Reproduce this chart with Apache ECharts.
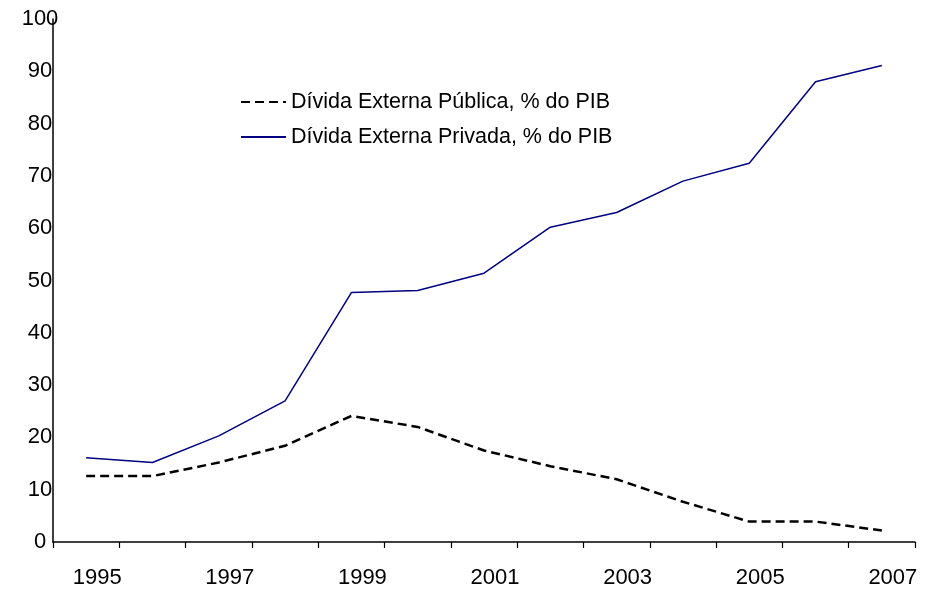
<!DOCTYPE html>
<html>
<head>
<meta charset="utf-8">
<title>Dívida Externa, % do PIB</title>
<script src="https://cdn.jsdelivr.net/npm/echarts@6.0.0/dist/echarts.min.js"></script>
<style>
  html, body { margin: 0; padding: 0; background: #fff; }
  #main { width: 925px; height: 593px; }
</style>
</head>
<body>
<div id="main"></div>
<script>
// dados
var anos = ['1995', '1996', '1997', '1998', '1999', '2000', '2001', '2002', '2003', '2004', '2005', '2006', '2007']
var publica = [12.6, 12.6, 15.2, 18.4, 24.1, 22.0, 17.5, 14.5, 12.0, 7.7, 3.9, 3.9, 2.2]
var privada = [16.1, 15.2, 20.3, 27.0, 47.7, 48.1, 51.4, 60.2, 63.0, 69.0, 72.4, 88.0, 91.1]
var nomePublica = 'Dívida Externa Pública, % do PIB'
var nomePrivada = 'Dívida Externa Privada, % do PIB'

var fonte = "'Liberation Sans', Arial, sans-serif"

var myChart = echarts.init(document.getElementById('main'))

var option = {
  animation: false,
  backgroundColor: '#fff',
  textStyle: { fontFamily: fonte },
  grid: {
    left: 53,
    right: 10,
    top: 19,
    bottom: 51,
    outerBoundsMode: 'none'
  },
  legend: {
    orient: 'vertical',
    left: 235,
    top: 86,
    itemWidth: 45,
    itemHeight: 20,
    itemGap: 13,
    itemStyle: { opacity: 0 }, // só a linha, sem o círculo
    textStyle: { fontSize: 21.5, color: '#000', fontFamily: fonte },
    data: [nomePublica, nomePrivada]
  },
  xAxis: {
    type: 'category',
    data: anos,
    boundaryGap: true,
    axisLine: { lineStyle: { color: '#000', width: 1.5 } },
    axisTick: { show: true, interval: 0, length: 6, lineStyle: { color: '#000', width: 1.2 } },
    axisLabel: {
      interval: 1, // um ano sim, outro não
      fontSize: 22,
      color: '#000',
      margin: 25,
      padding: [0, 0, 0, 22]
    },
    splitLine: { show: false }
  },
  yAxis: {
    type: 'value',
    min: 0,
    max: 100,
    interval: 10,
    axisLine: { show: true, lineStyle: { color: '#000', width: 1.5 } },
    axisTick: { show: false },
    axisLabel: {
      fontSize: 22,
      color: '#000',
      align: 'center',
      margin: 13
    },
    splitLine: { show: false }
  },
  series: [
    {
      name: nomePublica,
      type: 'line',
      data: publica,
      symbol: 'none',
      lineStyle: { color: '#000', width: 2.5, type: [9, 5] },
      itemStyle: { color: '#000' }
    },
    {
      name: nomePrivada,
      type: 'line',
      data: privada,
      symbol: 'none',
      lineStyle: { color: '#000080', width: 1.5 },
      itemStyle: { color: '#000080' }
    }
  ]
}

myChart.setOption(option)
</script>
</body>
</html>
